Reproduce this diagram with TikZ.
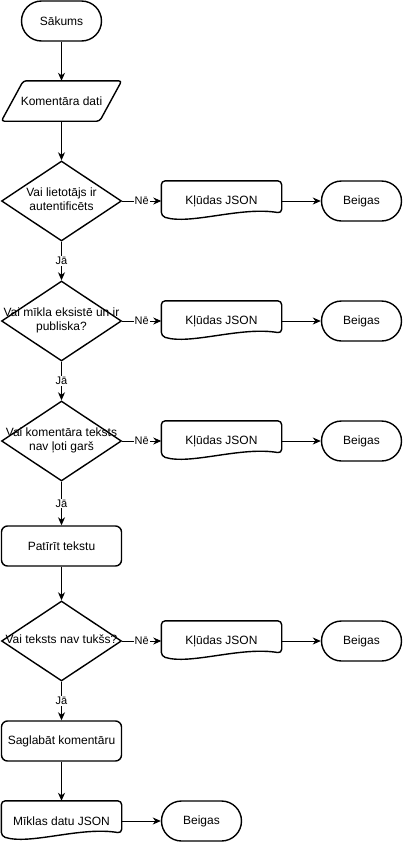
\documentclass[tikz,border=0pt]{standalone}
\usepackage{fontspec}
\setmainfont{Liberation Sans}
\usetikzlibrary{positioning,shapes.geometric,arrows.meta}

\tikzset{
  shapeline/.style={draw, line width=1.4pt},
  terminal/.style={shapeline, rectangle, rounded corners=20pt, minimum width=80pt, minimum height=40pt},
  process/.style={shapeline, rectangle, rounded corners=6pt, minimum width=120pt, minimum height=40pt},
  decision/.style={shapeline, diamond, aspect=1.5, minimum width=120pt, minimum height=80pt, inner sep=0pt},
  iobox/.style={rectangle, minimum width=120pt, minimum height=40pt},
  flow/.style={-{Stealth[length=8pt,width=7pt,inset=2.5pt]}, line width=1pt},
  tag/.style={fill=white, inner sep=1pt, font=\fontsize{11}{13}\selectfont},
}
% text of a decision, allowed to run over the diamond
\newcommand{\dtext}[1]{\makebox[0pt]{\begin{tabular}{@{}c@{}}#1\end{tabular}}}
% outline of a document box (wavy bottom)
\newcommand{\docline}[1]{\draw[shapeline, rounded corners=4pt] ([yshift=8pt]#1.south east)
  .. controls ([xshift=-41pt,yshift=15pt]#1.south east) and ([xshift=29pt,yshift=-4pt]#1.south west)
  .. ([yshift=5pt]#1.south west) -- (#1.north west) -- (#1.north east) -- cycle;}

\begin{document}
\begin{tikzpicture}[node distance=100pt, on grid, font=\fontsize{12}{14}\selectfont]
        \useasboundingbox (0,0) rectangle (404pt,-844pt);
        \node[terminal] (start) at (61.5pt,-21pt) {Sākums};
        \node[iobox, below=80pt of start] (data) {Komentāra dati};
        \node[decision, below=100pt of data] (d1) {\dtext{Vai lietotājs ir\\autentificēts}};
        \node[decision, below=120pt of d1] (d2) {\dtext{Vai mīkla eksistē un ir\\publiska?}};
        \node[decision, below=120pt of d2] (d3) {\dtext{Vai komentāra teksts\\nav ļoti garš}};
        \node[process, below=105pt of d3] (clean) {Patīrīt tekstu};
        \node[decision, below=95pt of clean] (d4) {\dtext{Vai teksts nav tukšs?}};
        \node[process, below=100pt of d4] (save) {Saglabāt komentāru};
        \node[iobox, below=80pt of save] (out) {Mīklas datu JSON};
        \node[terminal, right=140pt of out] (endok) {Beigas};
        % error branches
        \node[iobox, right=160pt of d1] (err1) {Kļūdas JSON};
        \node[iobox, right=160pt of d2] (err2) {Kļūdas JSON};
        \node[iobox, right=160pt of d3] (err3) {Kļūdas JSON};
        \node[iobox, right=160pt of d4] (err4) {Kļūdas JSON};
        \node[terminal, right=140pt of err1] (end1) {Beigas};
        \node[terminal, right=140pt of err2] (end2) {Beigas};
        \node[terminal, right=140pt of err3] (end3) {Beigas};
        \node[terminal, right=140pt of err4] (end4) {Beigas};

        \draw[shapeline, rounded corners=3pt] ([xshift=22pt]data.north west) -- (data.north east)
          -- ([xshift=-22pt]data.south east) -- (data.south west) -- cycle;
        \docline{err1} \docline{err2} \docline{err3} \docline{err4} \docline{out}

        \path[flow]
                (start) edge (data)
                (data) edge (d1)
                (d1) edge node[tag]{Jā} (d2)
                (d2) edge node[tag]{Jā} (d3)
                (d3) edge node[tag]{Jā} (clean)
                (clean) edge (d4)
                (d4) edge node[tag]{Jā} (save)
                (save) edge (out)
                (out) edge (endok)
                (d1) edge node[tag]{Nē} (err1)
                (d2) edge node[tag]{Nē} (err2)
                (d3) edge node[tag]{Nē} (err3)
                (d4) edge node[tag]{Nē} (err4)
                (err1) edge (end1)
                (err2) edge (end2)
                (err3) edge (end3)
                (err4) edge (end4);
    \end{tikzpicture}
\end{document}
